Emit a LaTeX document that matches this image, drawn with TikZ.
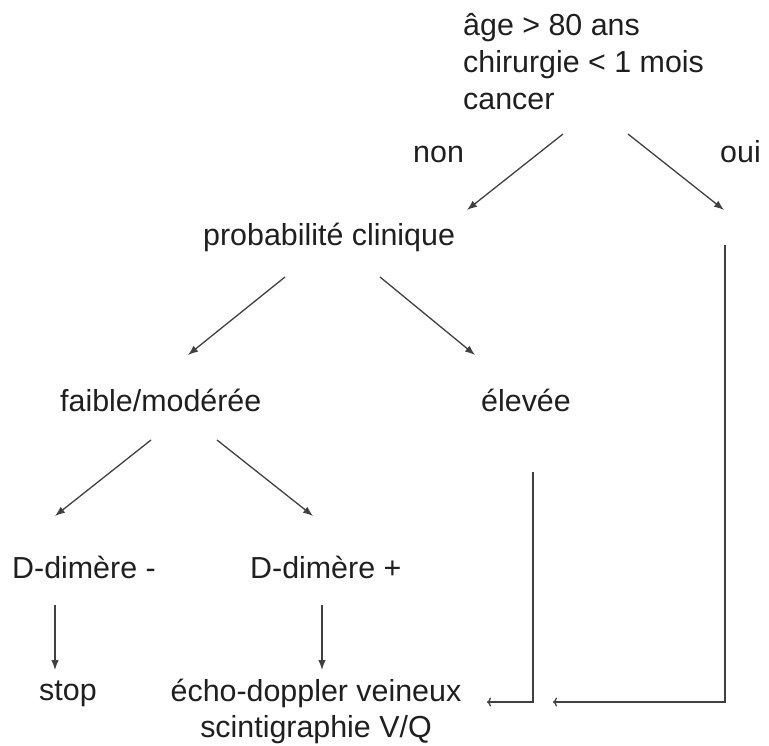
\documentclass[tikz,border=0pt]{standalone}
\usepackage{fontspec}
\setmainfont{Liberation Sans}
\usetikzlibrary{arrows.meta}
\begin{document}
\begin{tikzpicture}[x=1pt,y=-1pt,
  lbl/.style={inner sep=0pt, font=\fontsize{30.4}{37}\selectfont, text=black!88},
  conn/.style={draw=black!75, line width=1.3pt, -{Latex[length=10pt,width=7.5pt]}},
  elbow/.style={draw=black!75, line width=1.3pt, -{To[length=4pt,width=9pt]}}]
\useasboundingbox (0,0) rectangle (769,746);
% texts
\node[lbl, anchor=base west, align=left] (top) at (463,110) {âge > 80 ans\\chirurgie < 1 mois\\cancer};
\node[lbl, anchor=base west] (non) at (413,163) {non};
\node[lbl, anchor=base west] (oui) at (720,163) {oui};
\node[lbl, anchor=base west] (prob) at (203,246) {probabilité clinique};
\node[lbl, anchor=base west] (faible) at (60,411) {faible/modérée};
\node[lbl, anchor=base west] (elevee) at (481,411) {élevée};
\node[lbl, anchor=base west] (dmoins) at (12,578) {D-dimère -};
\node[lbl, anchor=base west] (dplus) at (250,578) {D-dimère +};
\node[lbl, anchor=base west] (stop) at (39,700) {stop};
\node[lbl, font=\fontsize{30.4}{36}\selectfont, anchor=base, align=center] (echo) at (316,737) {écho-doppler veineux\\scintigraphie V/Q};
% connector end points
\coordinate (t1s) at (563,134); \coordinate (t1e) at (467,210);
\coordinate (t2s) at (628,134); \coordinate (t2e) at (724,210);
\coordinate (p1s) at (285,277); \coordinate (p1e) at (188,355);
\coordinate (p2s) at (380,277); \coordinate (p2e) at (475,355);
\coordinate (f1s) at (151,440); \coordinate (f1e) at (55,516);
\coordinate (f2s) at (217,440); \coordinate (f2e) at (313,516);
\coordinate (d1s) at (55,605); \coordinate (d1e) at (55,670);
\coordinate (d2s) at (322,605); \coordinate (d2e) at (322,670);
\coordinate (es) at (533,472); \coordinate (ee) at (487,702);
\coordinate (os) at (725,245); \coordinate (oe) at (553,702);
% connectors
\draw[conn] (t1s) -- (t1e);
\draw[conn] (t2s) -- (t2e);
\draw[conn] (p1s) -- (p1e);
\draw[conn] (p2s) -- (p2e);
\draw[conn] (f1s) -- (f1e);
\draw[conn] (f2s) -- (f2e);
\draw[conn] (d1s) -- (d1e);
\draw[conn] (d2s) -- (d2e);
\draw[elbow] (es) |- (ee);
\draw[elbow] (os) |- (oe);
\end{tikzpicture}
\end{document}
